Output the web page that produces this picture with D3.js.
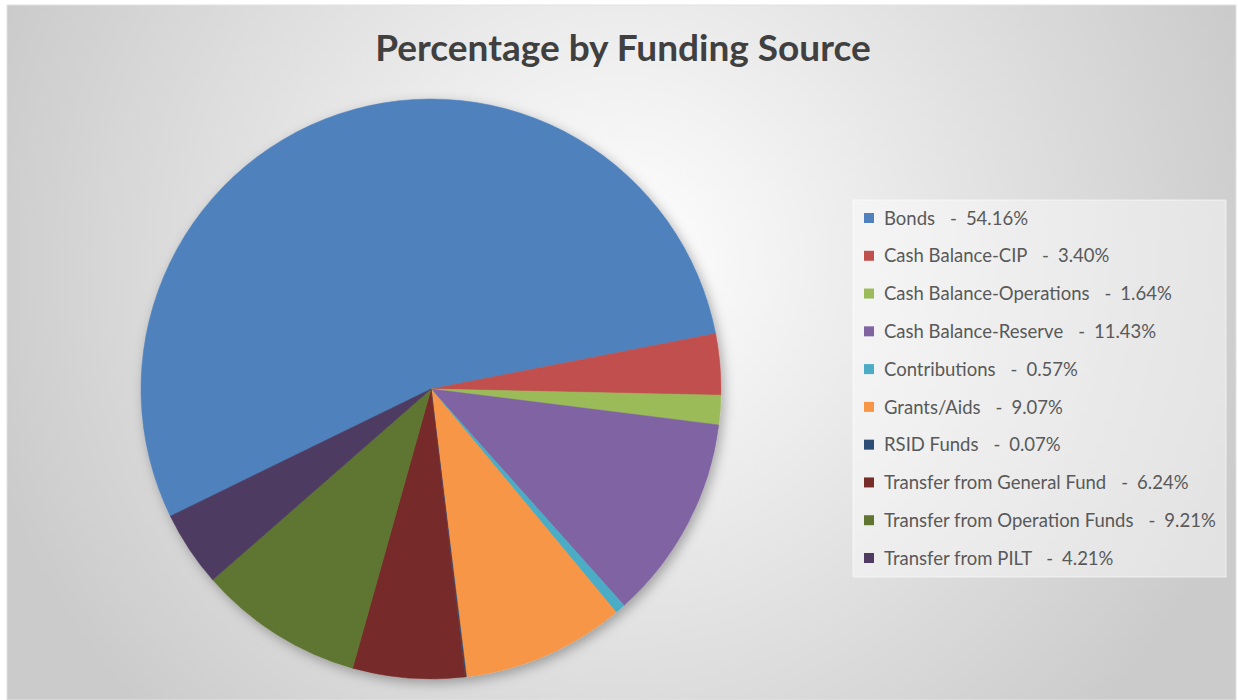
<!DOCTYPE html>
<html>
<head>
<meta charset="utf-8">
<script src="https://cdn.jsdelivr.net/npm/d3@7"></script>
<style>
  html, body { margin: 0; padding: 0; background: #ffffff; }
  svg { display: block; }
</style>
</head>
<body>
<svg id="chart" width="1238" height="700"></svg>
<script>
// Funding sources and their share of the total (percent)
const categories = [
  "Bonds",
  "Cash Balance-CIP",
  "Cash Balance-Operations",
  "Cash Balance-Reserve",
  "Contributions",
  "Grants/Aids",
  "RSID Funds",
  "Transfer from General Fund",
  "Transfer from Operation Funds",
  "Transfer from PILT"
];
const percents = [54.16, 3.40, 1.64, 11.43, 0.57, 9.07, 0.07, 6.24, 9.21, 4.21];
const colors = [
  "#4f81bd", "#c0504d", "#9bbb59", "#8064a2", "#4bacc6",
  "#f79646", "#2c4d75", "#772c2a", "#5f7530", "#4d3b62"
];
const title = "Percentage by Funding Source";

const W = 1238, H = 700;
const svg = d3.select("#chart");
const defs = svg.append("defs");

// Chart area background: soft radial gradient
const grad = defs.append("radialGradient")
  .attr("id", "bg")
  .attr("gradientUnits", "userSpaceOnUse")
  .attr("cx", 620).attr("cy", 260).attr("r", 660);
grad.append("stop").attr("offset", "0").attr("stop-color", "#ffffff");
grad.append("stop").attr("offset", "1").attr("stop-color", "#cbcbcb");

// Soft shadow beneath the pie
const shadow = defs.append("filter")
  .attr("id", "shadow")
  .attr("x", "-20%").attr("y", "-20%")
  .attr("width", "140%").attr("height", "140%");
shadow.append("feDropShadow")
  .attr("dx", 3).attr("dy", 4)
  .attr("stdDeviation", 6)
  .attr("flood-color", "#000")
  .attr("flood-opacity", 0.3);

svg.append("rect")
  .attr("x", 7).attr("y", 5)
  .attr("width", W - 9).attr("height", H - 5)
  .attr("fill", "url(#bg)")
  .attr("stroke", "#e2e2e2")
  .attr("stroke-width", 1);

// Title
svg.append("text")
  .attr("x", 623).attr("y", 61)
  .attr("text-anchor", "middle")
  .attr("font-family", "Lato, 'Open Sans', sans-serif")
  .attr("font-weight", "bold")
  .attr("font-size", 37)
  .attr("fill", "#404040")
  .text(title);

// Pie
const cx = 431, cy = 389, radius = 290;
const start = -116 * Math.PI / 180;
const data = categories.map((c, i) => ({ name: c, value: percents[i], color: colors[i] }));

const pie = d3.pie()
  .sort(null)
  .value(d => d.value)
  .startAngle(start)
  .endAngle(start + 2 * Math.PI);
const arc = d3.arc().innerRadius(0).outerRadius(radius);

const g = svg.append("g")
  .attr("transform", `translate(${cx},${cy})`)
  .attr("filter", "url(#shadow)");
g.selectAll("path")
  .data(pie(data))
  .join("path")
  .attr("d", arc)
  .attr("fill", d => d.data.color)
  .attr("stroke", d => d.data.color)
  .attr("stroke-width", 0.5);

// Legend
const lgX = 853, lgY = 200, lgW = 373, lgH = 377;
svg.append("rect")
  .attr("x", lgX).attr("y", lgY)
  .attr("width", lgW).attr("height", lgH)
  .attr("fill", "#ffffff").attr("fill-opacity", 0.45)
  .attr("stroke", "#ffffff").attr("stroke-opacity", 0.6);

const rowY = d3.scalePoint()
  .domain(categories)
  .range([218, 558]);

const items = svg.append("g").selectAll("g")
  .data(data)
  .join("g")
  .attr("transform", d => `translate(0,${rowY(d.name)})`);
items.append("rect")
  .attr("x", 864).attr("y", -5)
  .attr("width", 10).attr("height", 10)
  .attr("fill", d => d.color);
const label = items.append("text")
  .attr("x", 884).attr("y", 0)
  .attr("dy", "0.36em")
  .attr("font-family", "Lato, 'Open Sans', sans-serif")
  .attr("font-size", 18.5)
  .attr("fill", "#595959");
label.append("tspan").text(d => d.name);
label.append("tspan").attr("dx", 15).text("-");
label.append("tspan").attr("dx", 9).text(d => `${d3.format(".2f")(d.value)}%`);
</script>
</body>
</html>
